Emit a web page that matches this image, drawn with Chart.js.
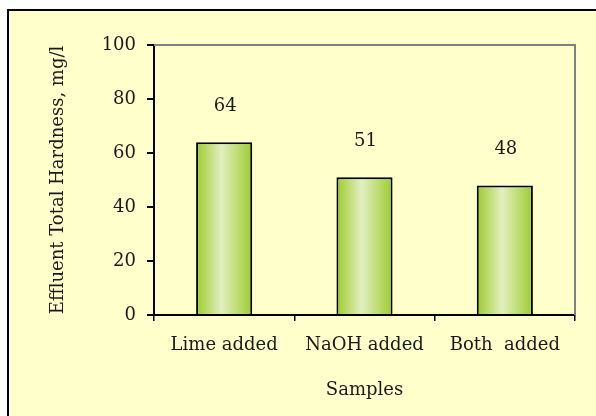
<!DOCTYPE html>
<html>
<head>
<meta charset="utf-8">
<script src="https://cdn.jsdelivr.net/npm/chart.js@4"></script>
<style>
    html, body { margin: 0; padding: 0; background: #fff; }
    #frame {
        position: absolute; left: 7px; top: 9px; width: 600px; height: 420px;
        background: #FFFFCC; border-top: 2px solid #000; border-left: 2px solid #000;
        box-sizing: border-box;
    }
    #wrap { position: absolute; left: 0; top: 0; width: 596px; height: 416px; }
</style>
</head>
<body>
<div id="frame"></div>
<div id="wrap"><canvas id="chart" width="596" height="416"></canvas></div>
<script>
// chart data
const categories = ['Lime added', 'NaOH added', 'Both  added'];
const hardness = [64, 51, 48];
const yTicks = [0, 20, 40, 60, 80, 100];

const FONT = 'DejaVu Serif';

// green tube style fill for each bar, left-to-right gradient
function barFill(context) {
    const chart = context.chart;
    const xScale = chart.scales.x;
    if (!xScale || context.dataIndex === undefined) return '#9CCB2C';
    const cx = xScale.getPixelForValue(context.dataIndex);
    const w = (xScale.width / categories.length) * 0.4;
    if (!isFinite(cx) || !isFinite(w) || w <= 0) return '#9CCB2C';
    const g = chart.ctx.createLinearGradient(cx - w / 2, 0, cx + w / 2, 0);
    g.addColorStop(0, '#9CCB2C');
    g.addColorStop(0.45, '#E2EFC0');
    g.addColorStop(1, '#9ECC30');
    return g;
}

// grey plot area frame (top + right) and value labels above bars
const plotFrame = {
    id: 'plotFrame',
    beforeDatasetsDraw(chart) {
        const {ctx, chartArea} = chart;
        ctx.save();
        ctx.strokeStyle = '#808080';
        ctx.lineWidth = 2;
        ctx.beginPath();
        ctx.moveTo(chartArea.left, chartArea.top);
        ctx.lineTo(chartArea.right, chartArea.top);
        ctx.lineTo(chartArea.right, chartArea.bottom);
        ctx.stroke();
        ctx.restore();
    }
};

const valueLabels = {
    id: 'valueLabels',
    afterDatasetsDraw(chart) {
        const {ctx} = chart;
        const meta = chart.getDatasetMeta(0);
        ctx.save();
        ctx.font = '18px "' + FONT + '"';
        ctx.fillStyle = '#1a1a1a';
        ctx.textAlign = 'center';
        ctx.textBaseline = 'middle';
        meta.data.forEach((bar, i) => {
            ctx.fillText(String(hardness[i]), bar.x + 1, bar.y - 36);
        });
        ctx.restore();
    }
};

new Chart(document.getElementById('chart'), {
    type: 'bar',
    data: {
        labels: categories,
        datasets: [{
            data: hardness,
            backgroundColor: barFill,
            borderColor: '#000',
            borderWidth: 2,
            categoryPercentage: 1,
            barPercentage: 0.4
        }]
    },
    options: {
        responsive: false,
        animation: false,
        devicePixelRatio: 1,
        layout: { padding: { left: 44, top: 45, right: 21, bottom: 11 } },
        plugins: { legend: { display: false }, tooltip: { enabled: false } },
        scales: {
            x: {
                afterFit: s => { s.height = 90; },
                border: { color: '#000', width: 2 },
                grid: { offset: true, drawOnChartArea: false, color: '#000', lineWidth: 1.5, tickLength: 6 },
                ticks: { color: '#1a1a1a', padding: 14, font: { family: FONT, size: 18 } },
                title: { display: true, text: 'Samples', color: '#1a1a1a', font: { family: FONT, size: 18 } }
            },
            y: {
                min: 0,
                max: 100,
                afterFit: s => { s.width = 110; },
                afterBuildTicks: s => { s.ticks = yTicks.map(v => ({ value: v })); },
                border: { color: '#000', width: 2 },
                grid: { drawOnChartArea: false, color: '#000', lineWidth: 2, tickLength: 7 },
                ticks: { color: '#1a1a1a', padding: 11, font: { family: FONT, size: 18 } },
                title: { display: true, text: 'Effluent Total Hardness, mg/l', color: '#1a1a1a', font: { family: FONT, size: 18 } }
            }
        }
    },
    plugins: [plotFrame, valueLabels]
});
</script>
</body>
</html>
